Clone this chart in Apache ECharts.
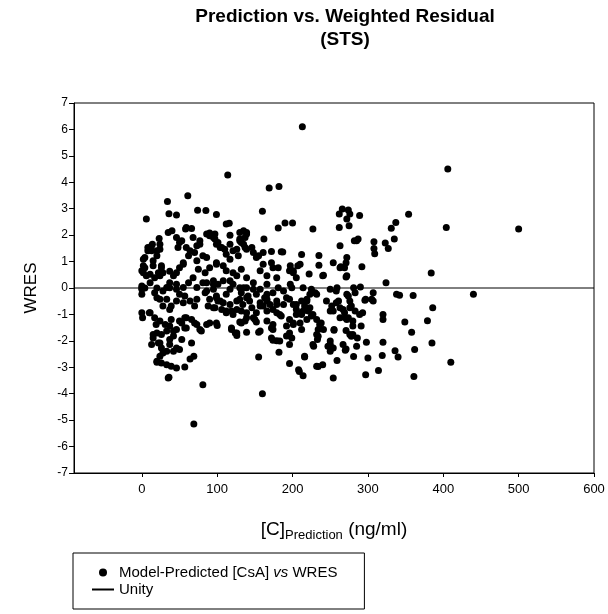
<!DOCTYPE html>
<html>
<head>
<meta charset="utf-8">
<script src="https://cdn.jsdelivr.net/npm/echarts@6/dist/echarts.min.js"></script>
<style>html,body{margin:0;background:#fff}#main{width:608px;height:614px}</style>
</head>
<body>
<div id="main"></div>
<script>
var xTicks = [0, 100, 200, 300, 400, 500, 600];
var unityLine = [[-90, 0], [600, 0]];

// [C] prediction (ng/ml), WRES
var outliersHigh = [
  [114,4.28],[61,3.49],[34,3.27],[6,2.61],[36,2.81],[46,2.76],[74,2.94],[85,2.93],[99,2.78],[112,2.42],[116,2.45],
  [66,2.25],[58,2.23],[35,2.10],[40,2.17],[23,1.87],[14,1.66],[53,1.79],[90,2.08],[97,2.04],[117,2.0],[130,2.1],
  [169,3.78],[182,3.84],[213,6.1],[160,2.9],[181,2.27],[190,2.46],[200,2.46],[227,2.23],[162,1.85],[187,1.36],
  [212,1.27],[235,1.23],[222,0.53],[241,0.48],[254,0.96],[262,2.8],[262,2.29],[263,1.6],[172,1.38],
  [266,2.99],[274,2.95],[276,2.8],[272,2.61],[275,2.36],[282,1.79],[272,1.15],[271,0.96],[263,0.77],[272,0.46],
  [235,0.86],[240,0.46],[207,0.84],[201,0.65],[196,0.65],[185,1.37],[172,0.96],[181,0.77],[161,1.34],[155,1.22],
  [148,1.34],[139,1.47],[135,2.17],[139,2.1],[137,1.91],[132,1.72],[137,1.53],
  [406,4.5],[404,2.29],[354,2.79],[337,2.48],[331,2.26],[335,1.85],[323,1.7],[327,1.49],[308,1.75],[308,1.49],
  [309,1.3],[287,1.85],[285,1.79],[289,2.74],[384,0.57],[324,0.2],[290,0.04],[292,0.8],[500,2.23],[271,0.42],
  [269,0.77],[264,0.80],[259,0.01]
];

var rightNegative = [
  [307,-0.18],[307,-0.49],[296,-0.46],[338,-0.24],[342,-0.27],[360,-0.28],[386,-0.75],[320,-1.0],[320,-1.19],
  [349,-1.29],[379,-1.24],[358,-1.67],[276,-0.75],[283,-0.87],[289,-1.0],[293,-0.94],[280,-1.44],[291,-1.44],
  [280,-1.76],[286,-1.89],[298,-2.05],[285,-2.2],[320,-2.05],[385,-2.08],[362,-2.33],[336,-2.37],[340,-2.61],
  [281,-2.59],[300,-2.65],[319,-2.55],[410,-2.81],[297,-3.28],[314,-3.12],[361,-3.35],[440,-0.24],
  [261,-0.49],[267,-0.81],[272,-1.19],[270,-1.13],[274,-0.30],[281,0.01],[297,-0.43],[305,-0.43],[255,-1.6],
  [271,-1.61],[276,-1.76],[270,-2.36],[250,-2.39],[250,-2.14],[254,-3.41],[259,-2.74]
];

var midNegative = [
  [160,-4.0],[155,-2.61],[182,-2.43],[196,-2.86],[216,-2.61],[209,-3.16],[214,-3.32],[234,-2.97],[240,-2.9],
  [247,-2.2],[228,-2.2],[267,-2.14],[271,-2.31],[196,-2.14],[199,-1.89],[196,-1.7],[172,-1.89],[174,-1.98],
  [179,-2.0],[174,-1.57],[174,-1.38],[155,-1.67],[139,-1.67],[130,-1.29],[137,-1.25],[150,-1.19],[152,-1.29],
  [234,-1.57],[234,-1.83],[233,-1.95],[238,-1.32],[255,-1.57],[278,-1.83],[212,-1.57],[210,-1.32],[219,-1.19],
  [185,-1.06],[196,-1.19],[201,-1.32],[192,-1.44],
  [166,-0.43],[170,-0.62],[161,-0.68],[174,-0.81],[179,-0.94],[166,-0.87],[157,-0.56],[163,-0.37],[179,-0.49],
  [188,-0.62],[196,-0.43],[201,-0.62],[205,-0.81],[212,-1.0],[216,-0.68],[221,-0.87],[225,-1.06],[232,-1.19],
  [207,-0.94],[212,-0.49],[219,-0.43],[223,-0.24],[230,-0.18],[225,-0.05],[214,0.01],[199,0.01],[188,-0.11],
  [174,-0.18],[166,-0.24],[157,-0.05],[148,-0.05],[139,0.01],[132,-0.18],[141,-0.30],[143,-0.49],[134,-0.62],
  [132,-0.87],[139,-0.94],[148,-1.13],[252,-0.68],[258,-0.56],[263,-0.75],[269,-0.94],[274,-1.13],[263,-1.13],
  [250,-0.87],[276,-0.49],[278,-0.68],[272,-0.24],[258,-0.11],[250,-0.05],[283,-0.18],[280,-1.25],
  [86,-1.38],[99,-1.32],[95,-0.75],[104,-0.49],[112,-0.87],[121,-1.0],[119,-1.57],[126,-1.70],[132,-1.32],
  [139,-1.13],[146,-0.75],[152,-0.94],[157,-1.63],[166,-1.25],[172,-1.51],[183,-2.01],[192,-1.82],[201,-1.38],
  [205,-1.0],[214,-0.87],[223,-0.75],[227,-1.0],[236,-1.38],[232,-1.76],[227,-2.14],[241,-1.57],[250,-2.01],
  [254,-2.27],[86,-0.11],[99,-0.37],[112,-0.24],[126,-0.49],[139,-0.37],[152,-0.24],[166,-0.49],[179,-0.62],
  [192,-0.37],[205,-0.62],[219,-0.49],[232,-0.24],[245,-0.49],[254,-0.87],[183,-1.0],[157,-0.68],
  [208,-3.09],[216,-2.58],[232,-2.96]
];

var lowNegative = [
  [36,-3.38],[81,-3.66],[69,-5.15],[0,-0.94],[1,-1.13],[0,-0.05],[0,-0.24],
  [11,-0.94],[17,-1.13],[24,-1.25],[31,-1.38],[37,-1.44],[33,-1.63],[26,-1.76],[20,-1.70],[15,-1.89],[13,-2.14],
  [22,-2.08],[26,-2.27],[28,-2.46],[24,-2.58],[20,-2.81],[26,-2.84],[33,-2.90],[39,-2.96],[46,-3.03],[57,-2.99],
  [64,-2.69],[69,-2.58],[66,-2.08],[53,-1.95],[50,-2.33],[42,-2.39],[33,-2.39],[37,-2.14],[42,-1.82],[53,-1.32],
  [59,-1.13],[66,-1.19],[70,-1.32],[77,-1.57],[73,-1.38],[57,-1.51],[46,-1.57],[39,-1.19],[37,-0.81],[39,-0.68],
  [28,-0.68],[24,-0.43],[20,-0.37],[17,-0.18],[28,-0.11],[37,0.01],[46,-0.05],[50,-0.24],[57,-0.30],[64,-0.49],
  [70,-0.68],[73,-0.43],[55,-0.56],[46,-0.49],[33,-0.43],[84,-0.18],[95,-0.05],[99,-0.30],[90,-0.43],[88,-0.68],
  [97,-0.75],[106,-0.81],[112,-0.94],[119,-0.87],[126,-0.81],[117,-0.62],[108,-0.56],[101,-0.49],[130,-0.43],
  [90,-1.32],[100,-1.42],[119,-1.51],[124,-1.70],[126,-1.80],[117,-0.05],[130,0.01],
  [19,-1.38],[15,-1.76],[24,-2.08],[20,-2.77],[35,-3.41],[79,-1.63],[57,-1.13],[59,-1.51],[50,-1.25],[42,-1.63],
  [37,-1.95],[46,-2.27],[10,-0.94]
];

var lowPositive = [
  [2,1.09],[4,0.77],[2,0.58],[6,0.46],[11,0.20],[0,0.08],[15,0.84],[20,1.22],[13,1.41],[8,1.53],[24,1.47],
  [26,0.84],[28,0.58],[37,0.63],[42,0.46],[46,0.58],[50,0.77],[55,0.96],[50,1.72],[48,1.53],[59,1.53],[64,1.41],
  [62,1.22],[70,1.34],[73,1.60],[77,1.79],[81,1.22],[90,1.98],[97,1.85],[101,1.72],[106,1.53],[110,1.47],
  [117,1.66],[126,1.47],[130,1.85],[135,1.66],[128,1.22],[117,1.09],[108,0.84],[99,0.96],[90,0.77],[84,0.58],
  [75,0.71],[68,0.39],[62,0.20],[55,0.02],[46,0.14],[37,0.20],[33,0.02],[24,0.46],[95,0.27],[101,0.14],
  [117,0.27],[126,0.46],[132,0.71],[121,0.58],[86,0.20],[73,0.02],[20,0.0],[4,0.0],
  [0,0.65],[2,0.84],[8,1.41],[13,1.60],[20,1.41],[24,1.66],[4,1.15],[15,1.03],[11,0.52],[17,0.39],[26,0.77],
  [22,0.58],[0,0.01],
  [59,2.29],[68,1.91],[77,1.66],[86,2.04],[95,1.91],[99,1.66],[104,1.53],[112,1.28],[121,1.41],[130,1.79],
  [139,2.04],[146,1.53],[152,1.15],[161,0.90],[157,0.65],[139,0.39],[112,0.65],[99,0.90],[86,1.15],[73,1.03],
  [46,1.91],[55,0.90],[81,0.20],[95,0.14],[108,0.27],[121,0.14],[135,0.01],[148,0.20],[166,0.46],[174,0.77],
  [166,0.14],[179,0.39],[197,0.84],[201,0.58],[210,0.90],[197,0.14],[205,0.39],[181,0.01]
];

var points = outliersHigh.concat(rightNegative, midNegative, lowNegative, lowPositive);

var font = '"Liberation Sans", Arial, sans-serif';
var chart = echarts.init(document.getElementById('main'));
chart.setOption({
  animation: false,
  title: {
    text: 'Prediction vs. Weighted Residual\n(STS)',
    left: 340,
    textAlign: 'center',
    top: 0,
    textStyle: { fontFamily: font, fontSize: 19, fontWeight: 'bold', color: '#000', lineHeight: 23 }
  },
  grid: {
    left: 74, right: 14, top: 103, bottom: 141,
    show: true, borderColor: '#000', borderWidth: 1
  },
  legend: {
    orient: 'vertical',
    left: 73,
    top: 553,
    borderColor: '#000',
    borderWidth: 1,
    borderRadius: 0,
    padding: [12, 27, 12, 18],
    itemWidth: 22,
    itemHeight: 8,
    itemGap: 2,
    data: [
      { name: 'Model-Predicted [CsA] vs WRES', icon: 'circle' },
      { name: 'Unity', itemStyle: { opacity: 0 } }
    ],
    formatter: function (name) {
      if (name === 'Unity') return '{n|Unity}';
      return '{n|Model-Predicted [CsA] }{i|vs}{n| WRES}';
    },
    textStyle: {
      fontFamily: font, fontSize: 15, color: '#000',
      rich: {
        n: { fontFamily: font, fontSize: 15, color: '#000', lineHeight: 18 },
        i: { fontFamily: font, fontSize: 15, color: '#000', fontStyle: 'italic', lineHeight: 18 }
      }
    }
  },
  xAxis: {
    type: 'value',
    min: -90,
    max: 600,
    name: '{a|[C]}{s|Prediction}{a| (ng/ml)}',
    nameLocation: 'middle',
    nameGap: 44,
    nameTextStyle: {
      rich: {
        a: { fontFamily: font, fontSize: 19, color: '#000' },
        s: { fontFamily: font, fontSize: 13, color: '#000', verticalAlign: 'bottom', padding: [12, 0, 0, 0] }
      }
    },
    axisLine: { onZero: false, lineStyle: { color: '#000', width: 1 } },
    axisTick: { customValues: xTicks, length: 4, lineStyle: { color: '#000' } },
    axisLabel: { customValues: xTicks, fontFamily: font, fontSize: 13, color: '#000', margin: 10 },
    splitLine: { show: false }
  },
  yAxis: {
    type: 'value',
    min: -7,
    max: 7,
    interval: 1,
    name: 'WRES',
    nameLocation: 'middle',
    nameGap: 34,
    nameTextStyle: { fontFamily: font, fontSize: 17, color: '#000' },
    axisLine: { onZero: false, lineStyle: { color: '#000', width: 1 } },
    axisTick: { length: 5, lineStyle: { color: '#000' } },
    axisLabel: { fontFamily: font, fontSize: 12, color: '#000', margin: 6 },
    splitLine: { show: false }
  },
  series: [
    {
      name: 'Model-Predicted [CsA] vs WRES',
      type: 'scatter',
      data: points,
      symbol: 'circle',
      symbolSize: 7,
      itemStyle: { color: '#000', opacity: 1 }
    },
    {
      name: 'Unity',
      type: 'line',
      data: unityLine,
      symbol: 'none',
      lineStyle: { color: '#000', width: 1 },
      itemStyle: { color: '#000' }
    }
  ]
});
</script>
</body>
</html>
